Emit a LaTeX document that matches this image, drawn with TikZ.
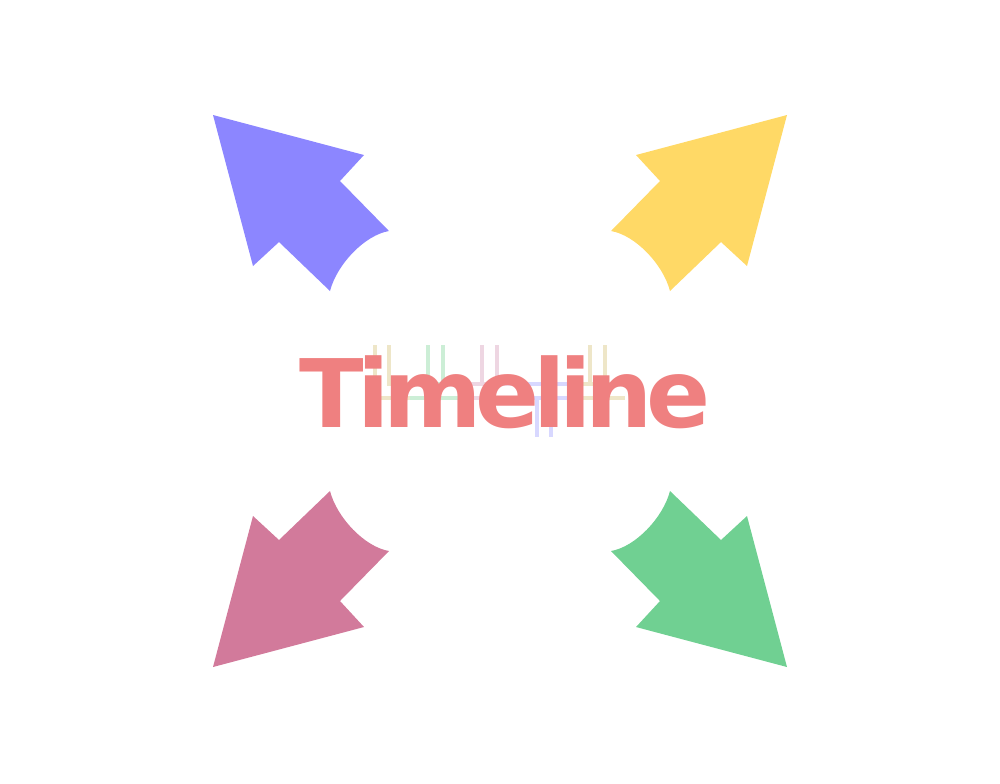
\documentclass[tikz,border=0pt]{standalone}
\usepackage{fontspec}
\newfontfamily\titlefont{DejaVu Sans}[LetterSpace=-6.8]
\usetikzlibrary{positioning,calc}

\definecolor{arrowblue}{RGB}{140,134,255}
\definecolor{arrowyellow}{RGB}{255,217,102}
\definecolor{arrowpink}{RGB}{210,122,155}
\definecolor{arrowgreen}{RGB}{112,208,146}
\definecolor{titlered}{RGB}{239,128,128}
\definecolor{linetan}{RGB}{238,230,200}
\definecolor{linegreen}{RGB}{204,238,214}
\definecolor{linepink}{RGB}{238,214,226}
\definecolor{lineblue}{RGB}{216,216,255}

\begin{document}
\begin{tikzpicture}[
x=0.1mm, y=-0.1mm,
track/.style={
  line width=1.2pt},
bigarrow/.style={
  shift={(500,391)}},
titletext/.style={
  text=titlered,
  font=\titlefont\bfseries\fontsize{26.9pt}{30pt}\selectfont,
  inner sep=0pt}
]
\useasboundingbox (0,0) rectangle (1000,783);
\coordinate (O) at (500,391);
% four arrows, one shape mirrored
\foreach \sx/\sy/\col in {1/1/arrowblue,-1/1/arrowyellow,1/-1/arrowpink,-1/-1/arrowgreen}
  \fill[\col, bigarrow, xscale=\sx, yscale=\sy]
    (-287,-276) -- (-136,-236) -- (-160,-210) -- (-111,-160)
    .. controls (-135,-156) and (-163,-127) .. (-170,-100)
    -- (-221,-149) -- (-247,-125) -- cycle;
% faint timeline behind the title
\draw[track,linetan] (375,345) -- (375,398) -- (410,398);
\draw[track,linetan] (389,345) -- (389,384) -- (410,384);
\foreach \xa/\xb/\col in {410/470/linegreen,470/527/linepink,527/580/lineblue,580/625/linetan}
  {\draw[track,\col] (\xa,384) -- (\xb,384);
   \draw[track,\col] (\xa,398) -- (\xb,398);}
\foreach \xt/\col in {428/linegreen,443/linegreen,482/linepink,497/linepink,590/linetan,605/linetan}
  \draw[track,\col] (\xt,345) -- (\xt,384);
\foreach \xt in {537,551}
  \draw[track,lineblue] (\xt,398) -- (\xt,437);
\node[titletext, anchor=base] (title) at (505,427) {Timeline};
\end{tikzpicture}
\end{document}
